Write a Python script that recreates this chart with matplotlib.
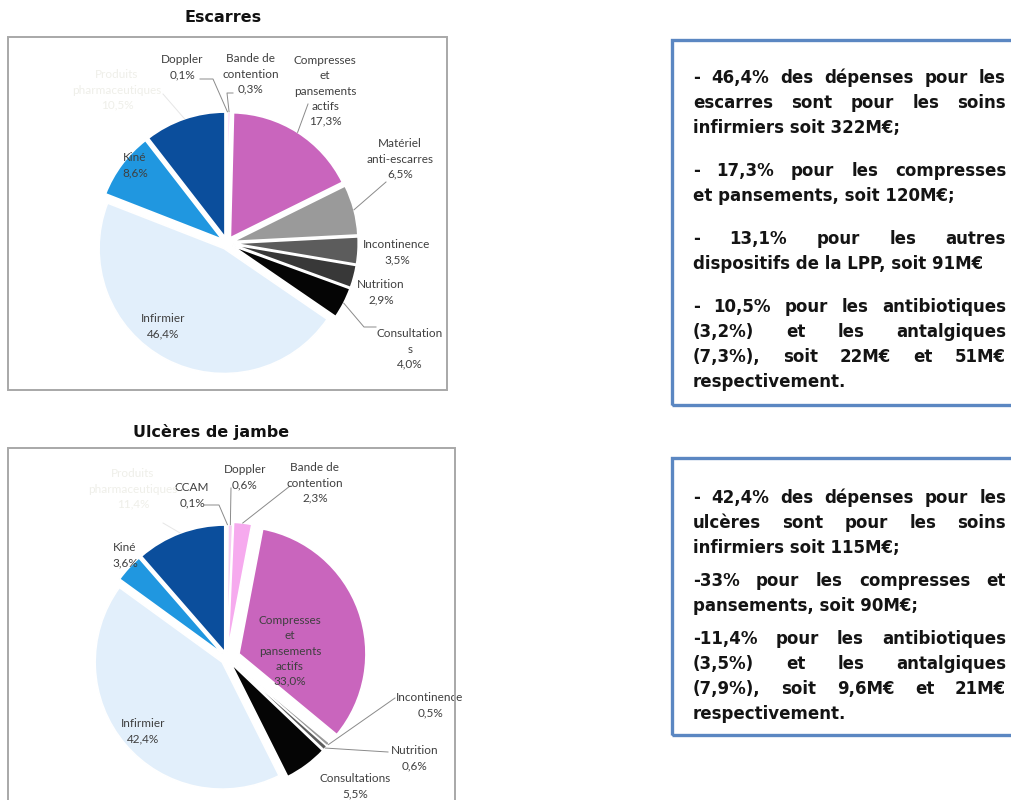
import matplotlib
matplotlib.use("Agg")
import matplotlib.pyplot as plt
import numpy as np
from matplotlib.patches import Rectangle

W, H = 1011, 800

# --- data -----------------------------------------------------------------
esc_labels = ["Doppler", "Bande de\ncontention", "Compresses\net\npansements\nactifs",
              "Matériel\nanti-escarres", "Incontinence", "Nutrition", "Consultation\ns",
              "Infirmier", "Kiné", "Produits\npharmaceutiques"]
esc_values = [0.1, 0.3, 17.3, 6.5, 3.5, 2.9, 4.0, 46.4, 8.6, 10.5]

ulc_labels = ["CCAM", "Doppler", "Bande de\ncontention", "Compresses\net\npansements\nactifs",
              "Incontinence", "Nutrition", "Consultations", "Infirmier", "Kiné",
              "Produits\npharmaceutiques"]
ulc_values = [0.1, 0.6, 2.3, 33.0, 0.5, 0.6, 5.5, 42.4, 3.6, 11.4]

esc_text = [
    [("- 46,4% des dépenses pour les", True), ("escarres sont pour les soins", True),
     ("infirmiers soit 322M€;", False)],
    [("- 17,3% pour les compresses", True), ("et pansements, soit 120M€;", False)],
    [("- 13,1% pour les autres", True), ("dispositifs de la LPP, soit 91M€", False)],
    [("- 10,5% pour les antibiotiques", True), ("(3,2%) et les antalgiques", True),
     ("(7,3%), soit 22M€ et 51M€", True), ("respectivement.", False)],
]
ulc_text = [
    [("- 42,4% des dépenses pour les", True), ("ulcères sont pour les soins", True),
     ("infirmiers soit 115M€;", False)],
    [("-33% pour les compresses et", True), ("pansements, soit 90M€;", False)],
    [("-11,4% pour les antibiotiques", True), ("(3,5%) et les antalgiques", True),
     ("(7,9%), soit 9,6M€ et 21M€", True), ("respectivement.", False)],
]

# --- styles / positions (pixels) -----------------------------------------
colors_esc = ["#e97ad8", "#f6b3ee", "#c965bd", "#9a9a9a", "#5c5c5c", "#383838", "#050505",
              "#e2effb", "#2097e0", "#0b4e9c"]
colors_ulc = ["#8c8c8c", "#f5cdf1", "#f6aaee", "#c965bd", "#9a9a9a", "#5c5c5c", "#050505",
              "#e2effb", "#2097e0", "#0b4e9c"]
explode_esc = [0.05] * 10
explode_ulc = [0.05, 0.05, 0.07, 0.1, 0.05, 0.05, 0.05, 0.05, 0.05, 0.05]

LABEL = "#3f3f3f"
FAINT = "#efefe9"

# label centre (x, y), text colour, leader [(x, y) ...] ending on the wedge
esc_pos = [
    ((182, 67), LABEL, [(200, 79), (213, 79)]),
    ((251, 74), LABEL, [(233, 93), (227, 93)]),
    ((325, 91), LABEL, [(308, 104)]),
    ((400, 159), LABEL, [(386, 182)]),
    ((397, 252), LABEL, None),
    ((381, 292), LABEL, None),
    ((410, 349), LABEL, [(376, 327), (364, 327)]),
    ((163, 326), LABEL, None),
    ((135, 165), LABEL, None),
    ((117, 90), FAINT, [(163, 94)]),
]
ulc_pos = [
    ((192, 495), LABEL, [(204, 505), (219, 505)]),
    ((245, 477), LABEL, [(231, 488)]),
    ((315, 483), LABEL, [(290, 486)]),
    ((290, 651), LABEL, None),
    ((430, 705), LABEL, [(395, 698)]),
    ((415, 758), LABEL, [(388, 752)]),
    ((355, 786), LABEL, None),
    ((143, 731), LABEL, None),
    ((125, 555), LABEL, None),
    ((133, 489), FAINT, [(163, 523)]),
]


def fx(x):
    return x / W


def fy(y):
    return 1 - y / H


def pct(v):
    return f"{v:.1f}".replace(".", ",") + "%"


def draw_pie(fig, cx, cy, radius, values, labels, colors, explode, positions):
    half = 230
    ax = fig.add_axes([fx(cx - half), fy(cy + half), 2 * half / W, 2 * half / H])
    lim = half / radius
    ax.axis("off")
    wedges, _ = ax.pie(values, colors=colors, explode=explode, startangle=90,
                       counterclock=False, radius=1.0,
                       wedgeprops=dict(edgecolor="white", linewidth=1.2))
    ax.set_xlim(-lim, lim)
    ax.set_ylim(-lim, lim)
    ax.set_aspect("equal")

    def to_data(p):
        return (p[0] - cx) / radius, (cy - p[1]) / radius

    for wedge, label, value, (pos, tcol, leader) in zip(wedges, labels, values, positions):
        x, y = to_data(pos)
        ax.text(x, y, label + "\n" + pct(value), ha="center", va="center", fontsize=8.5,
                family="Lato", color=tcol, linespacing=1.45, clip_on=False)
        if leader:
            theta = np.deg2rad((wedge.theta1 + wedge.theta2) / 2)
            ex = wedge.center[0] + wedge.r * np.cos(theta)
            ey = wedge.center[1] + wedge.r * np.sin(theta)
            pts = [to_data(p) for p in leader] + [(ex, ey)]
            lc = "#8a8a8a" if tcol == LABEL else "#e6e6e6"
            ax.plot([p[0] for p in pts], [p[1] for p in pts], color=lc, lw=0.7,
                    clip_on=False)
    return ax


def draw_paragraphs(fig, renderer, paragraphs, x0, x1, y_start, line_step, para_step):
    y = y_start
    for para in paragraphs:
        for line, justify in para:
            kw = dict(fontsize=12, fontweight="bold", family="DejaVu Sans",
                      color="#141414", va="baseline", ha="left")
            if not justify:
                fig.text(fx(x0), fy(y), line, **kw)
            else:
                words = line.split()
                texts = [fig.text(0, 0, w, **kw) for w in words]
                widths = [t.get_window_extent(renderer).width for t in texts]
                gap = (x1 - x0 - sum(widths)) / (len(words) - 1)
                xx = x0
                for t, w in zip(texts, widths):
                    t.set_position((fx(xx), fy(y)))
                    xx += w + gap
            y += line_step
        y += para_step - line_step


fig = plt.figure(figsize=(W / 100, H / 100), dpi=100)
renderer = fig.canvas.get_renderer()

# chart frames
for (x0, y0, x1, y1) in [(8, 37, 447, 390), (8, 448, 455, 812)]:
    fig.add_artist(Rectangle((fx(x0), fy(y1)), (x1 - x0) / W, (y1 - y0) / H,
                             transform=fig.transFigure, fill=False,
                             edgecolor="#a8a8a8", linewidth=1.4))

fig.text(fx(223), fy(18), "Escarres", ha="center", va="center", fontsize=11.5,
         fontweight="bold", family="DejaVu Sans", color="#111111")
fig.text(fx(211), fy(432), "Ulcères de jambe", ha="center", va="center", fontsize=11.5,
         fontweight="bold", family="DejaVu Sans", color="#111111")

draw_pie(fig, 227, 243, 125, esc_values, esc_labels, colors_esc, explode_esc, esc_pos)
draw_pie(fig, 227, 658, 127, ulc_values, ulc_labels, colors_ulc, explode_ulc, ulc_pos)

# text boxes
for (y0, y1) in [(40, 405), (458, 735)]:
    fig.add_artist(Rectangle((fx(672), fy(y1)), (1040 - 672) / W, (y1 - y0) / H,
                             transform=fig.transFigure, fill=False,
                             edgecolor="#5b87c2", linewidth=2.4))

draw_paragraphs(fig, renderer, esc_text, 693, 1006, 83, 25, 43)
draw_paragraphs(fig, renderer, ulc_text, 693, 1006, 503, 25, 33)

fig.savefig("out.png", dpi=100)
